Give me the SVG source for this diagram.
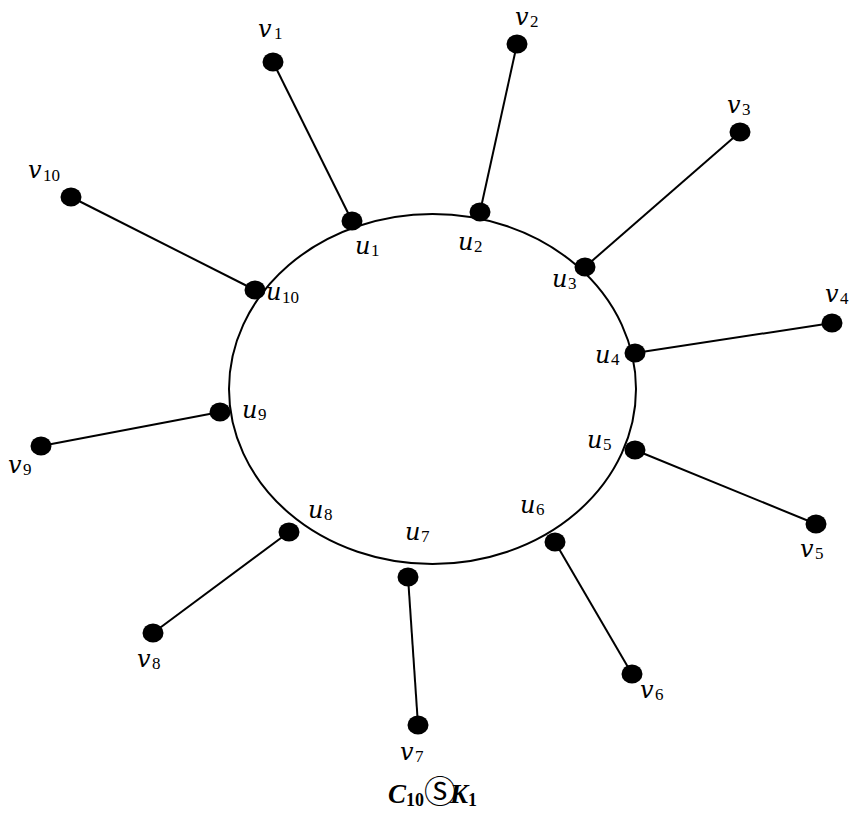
<svg xmlns="http://www.w3.org/2000/svg" width="860" height="819" viewBox="0 0 860 819">
<style>
.e{stroke:#000;stroke-width:2;fill:none}
.m{font-family:"DejaVu Serif","Liberation Serif",serif;font-style:italic;font-size:24px;fill:#000}
.s{font-family:"Liberation Serif","DejaVu Serif",serif;font-size:17px;fill:#000}
.c{font-family:"Liberation Serif","DejaVu Serif",serif;font-style:italic;font-weight:bold;font-size:27px;fill:#000}
.cs{font-family:"Liberation Serif","DejaVu Serif",serif;font-style:normal;font-weight:bold;font-size:18px;fill:#000}
.o{font-family:"DejaVu Sans","Noto Sans CJK SC",sans-serif;font-size:32px;font-weight:normal;font-style:normal}
</style>
<defs><ellipse id="dot" cx="0" cy="0" rx="10.5" ry="9.5"/></defs>
<g id="cycle"><ellipse class="e" cx="432.5" cy="389" rx="203.5" ry="175"/></g>
<g id="connectors">
<line class="e" x1="273" y1="62" x2="352" y2="221"/>
<line class="e" x1="517" y1="44" x2="480" y2="212"/>
<line class="e" x1="740" y1="132" x2="585" y2="267"/>
<line class="e" x1="832" y1="323" x2="635" y2="353"/>
<line class="e" x1="816" y1="524" x2="635" y2="450"/>
<line class="e" x1="632" y1="674" x2="555" y2="542"/>
<line class="e" x1="418" y1="725" x2="408" y2="577"/>
<line class="e" x1="153" y1="633" x2="289" y2="532"/>
<line class="e" x1="41" y1="446" x2="220" y2="412"/>
<line class="e" x1="71" y1="197" x2="255" y2="290"/>
</g>
<g id="u1"><use href="#dot" x="352" y="221"/><text class="m" x="355" y="254">u</text><text class="s" x="371" y="256">1</text></g>
<g id="u2"><use href="#dot" x="480" y="212"/><text class="m" x="458" y="250">u</text><text class="s" x="474" y="252">2</text></g>
<g id="u3"><use href="#dot" x="585" y="267"/><text class="m" x="552" y="287">u</text><text class="s" x="568" y="289">3</text></g>
<g id="u4"><use href="#dot" x="635" y="353"/><text class="m" x="595" y="363">u</text><text class="s" x="611" y="365">4</text></g>
<g id="u5"><use href="#dot" x="635" y="450"/><text class="m" x="587" y="448">u</text><text class="s" x="603" y="450">5</text></g>
<g id="u6"><use href="#dot" x="555" y="542"/><text class="m" x="520" y="513">u</text><text class="s" x="536" y="515">6</text></g>
<g id="u7"><use href="#dot" x="408" y="577"/><text class="m" x="405" y="540">u</text><text class="s" x="421" y="542">7</text></g>
<g id="u8"><use href="#dot" x="289" y="532"/><text class="m" x="308" y="518">u</text><text class="s" x="324" y="520">8</text></g>
<g id="u9"><use href="#dot" x="220" y="412"/><text class="m" x="242" y="418">u</text><text class="s" x="258" y="420">9</text></g>
<g id="u10"><use href="#dot" x="255" y="290"/><text class="m" x="266" y="300">u</text><text class="s" x="282" y="303">10</text></g>
<g id="v1"><use href="#dot" x="273" y="62"/><text class="m" x="258" y="37">v</text><text class="s" x="274" y="39">1</text></g>
<g id="v2"><use href="#dot" x="517" y="44"/><text class="m" x="515" y="25">v</text><text class="s" x="530" y="27">2</text></g>
<g id="v3"><use href="#dot" x="740" y="132"/><text class="m" x="727" y="113">v</text><text class="s" x="742" y="115">3</text></g>
<g id="v4"><use href="#dot" x="832" y="323"/><text class="m" x="825" y="302">v</text><text class="s" x="840" y="304">4</text></g>
<g id="v5"><use href="#dot" x="816" y="524"/><text class="m" x="800" y="557">v</text><text class="s" x="815" y="559">5</text></g>
<g id="v6"><use href="#dot" x="632" y="674"/><text class="m" x="640" y="698">v</text><text class="s" x="655" y="700">6</text></g>
<g id="v7"><use href="#dot" x="418" y="725"/><text class="m" x="400" y="760">v</text><text class="s" x="415" y="762">7</text></g>
<g id="v8"><use href="#dot" x="153" y="633"/><text class="m" x="137" y="667">v</text><text class="s" x="152" y="669">8</text></g>
<g id="v9"><use href="#dot" x="41" y="446"/><text class="m" x="8" y="473">v</text><text class="s" x="23" y="475">9</text></g>
<g id="v10"><use href="#dot" x="71" y="197"/><text class="m" x="28" y="178">v</text><text class="s" x="43" y="181">10</text></g>
<g id="caption"><text class="c" x="388" y="803">C<tspan class="cs" dy="3">10</tspan><tspan class="o" dy="-3">Ⓢ</tspan><tspan dx="-6">K</tspan><tspan class="cs" dy="3">1</tspan></text></g>
</svg>
